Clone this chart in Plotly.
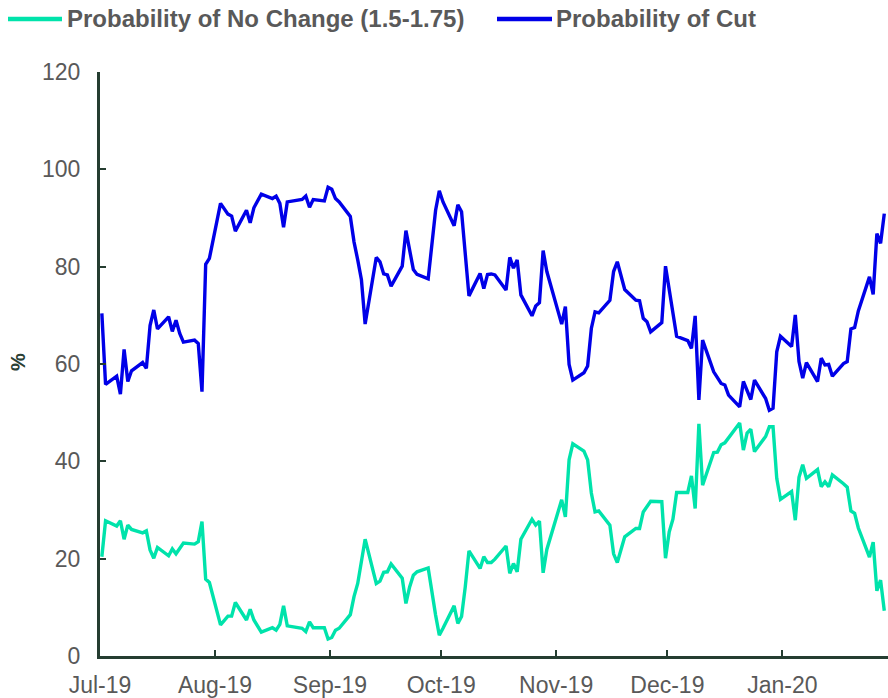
import plotly.graph_objects as go

# ---------------- data ----------------
cut_dates = [
    "2019-07-04", "2019-07-05", "2019-07-08", "2019-07-09", "2019-07-10", "2019-07-11", "2019-07-12",
    "2019-07-15", "2019-07-16", "2019-07-17", "2019-07-18", "2019-07-19",
    "2019-07-22", "2019-07-23", "2019-07-24", "2019-07-25", "2019-07-26",
    "2019-07-29", "2019-07-30", "2019-07-31", "2019-08-01", "2019-08-02",
    "2019-08-05", "2019-08-06", "2019-08-07", "2019-08-08", "2019-08-09",
    "2019-08-12", "2019-08-13", "2019-08-14", "2019-08-15", "2019-08-16",
    "2019-08-19", "2019-08-20", "2019-08-21", "2019-08-22", "2019-08-23",
    "2019-08-26", "2019-08-27", "2019-08-28", "2019-08-29", "2019-08-30",
    "2019-09-02", "2019-09-03", "2019-09-04", "2019-09-05", "2019-09-06",
    "2019-09-09", "2019-09-10", "2019-09-11", "2019-09-12", "2019-09-13",
    "2019-09-16", "2019-09-17", "2019-09-18", "2019-09-19", "2019-09-20",
    "2019-09-23", "2019-09-24", "2019-09-26", "2019-09-27",
    "2019-09-30", "2019-10-02", "2019-10-03", "2019-10-04",
    "2019-10-07", "2019-10-08", "2019-10-09", "2019-10-10", "2019-10-11",
    "2019-10-14", "2019-10-15", "2019-10-16", "2019-10-17", "2019-10-18",
    "2019-10-21", "2019-10-22", "2019-10-23", "2019-10-24", "2019-10-25",
    "2019-10-28", "2019-10-29", "2019-10-30", "2019-10-31", "2019-11-01",
    "2019-11-05", "2019-11-06", "2019-11-07", "2019-11-08",
    "2019-11-11", "2019-11-12", "2019-11-13", "2019-11-14", "2019-11-15",
    "2019-11-18", "2019-11-19", "2019-11-20", "2019-11-22",
    "2019-11-25", "2019-11-26", "2019-11-27", "2019-11-28", "2019-11-29",
    "2019-12-02", "2019-12-03", "2019-12-04", "2019-12-05", "2019-12-06",
    "2019-12-09", "2019-12-10", "2019-12-11", "2019-12-12", "2019-12-13",
    "2019-12-16", "2019-12-18", "2019-12-19", "2019-12-20",
    "2019-12-23", "2019-12-24", "2019-12-26", "2019-12-27",
    "2019-12-30", "2019-12-31", "2020-01-01", "2020-01-02", "2020-01-03",
    "2020-01-06", "2020-01-07", "2020-01-08", "2020-01-09", "2020-01-10",
    "2020-01-13", "2020-01-14", "2020-01-15", "2020-01-16", "2020-01-17",
    "2020-01-20", "2020-01-21", "2020-01-22", "2020-01-23", "2020-01-24",
    "2020-01-27", "2020-01-28", "2020-01-29", "2020-01-30", "2020-01-31",
]
cut_values = [
    70.4, 55.8, 57.5, 53.8, 63.0, 56.4, 58.6,
    60.3, 59.1, 67.9, 71.1, 67.2,
    69.7, 66.7, 69.0, 66.3, 64.5,
    64.9, 64.2, 54.3, 80.5, 81.7,
    93.0, 91.8, 90.8, 90.4, 87.3,
    91.6, 89.0, 92.1, 93.5, 94.9,
    94.0, 94.5, 93.0, 88.1, 93.3,
    93.6, 93.8, 94.5, 92.2, 93.8,
    93.5, 96.3, 95.9, 94.0, 93.3,
    90.3, 85.1, 81.4, 77.3, 68.2,
    81.9, 81.0, 78.5, 78.3, 76.0,
    80.1, 87.4, 79.4, 78.4,
    77.5, 91.6, 95.6, 93.3,
    88.4, 92.7, 91.3, 82.7, 74.0,
    78.6, 75.5, 78.4, 78.5, 78.3,
    75.2, 81.9, 79.7, 81.4, 74.2,
    69.9, 71.9, 72.6, 83.3, 79.0,
    68.2, 71.8, 59.9, 56.7,
    58.2, 59.6, 67.3, 70.7, 70.5,
    73.1, 79.0, 81.0, 75.3,
    73.1, 73.0, 69.4, 68.7, 66.6,
    68.5, 80.1, 75.2, 71.1, 65.7,
    64.8, 63.2, 69.9, 52.6, 64.9,
    58.4, 56.0, 55.7, 53.6,
    51.2, 56.4, 52.7, 56.7,
    52.9, 50.5, 50.9, 62.5, 65.7,
    63.6, 70.1, 60.5, 57.1, 60.3,
    56.4, 61.2, 59.8, 59.9, 57.5,
    60.1, 60.5, 67.2, 67.5, 70.9,
    77.9, 74.3, 86.8, 84.8, 90.9,
]

nochange_dates = [
    "2019-07-04", "2019-07-05", "2019-07-08", "2019-07-09", "2019-07-10", "2019-07-11", "2019-07-12",
    "2019-07-15", "2019-07-16", "2019-07-17", "2019-07-18", "2019-07-19",
    "2019-07-22", "2019-07-23", "2019-07-24", "2019-07-26",
    "2019-07-29", "2019-07-30", "2019-07-31", "2019-08-01", "2019-08-02",
    "2019-08-05", "2019-08-07", "2019-08-08", "2019-08-09",
    "2019-08-12", "2019-08-13", "2019-08-14", "2019-08-16",
    "2019-08-19", "2019-08-20", "2019-08-21", "2019-08-22", "2019-08-23",
    "2019-08-27", "2019-08-28", "2019-08-29", "2019-08-30",
    "2019-09-02", "2019-09-03", "2019-09-04", "2019-09-05", "2019-09-06",
    "2019-09-09", "2019-09-10", "2019-09-11", "2019-09-13",
    "2019-09-16", "2019-09-17", "2019-09-18", "2019-09-19", "2019-09-20",
    "2019-09-23", "2019-09-24", "2019-09-25", "2019-09-26", "2019-09-27",
    "2019-09-30", "2019-10-02", "2019-10-03", "2019-10-04",
    "2019-10-07", "2019-10-08", "2019-10-09", "2019-10-10", "2019-10-11",
    "2019-10-14", "2019-10-15", "2019-10-16", "2019-10-17", "2019-10-18",
    "2019-10-21", "2019-10-22", "2019-10-23", "2019-10-24", "2019-10-25",
    "2019-10-28", "2019-10-29", "2019-10-30", "2019-10-31", "2019-11-01",
    "2019-11-05", "2019-11-06", "2019-11-07", "2019-11-08",
    "2019-11-11", "2019-11-12", "2019-11-13", "2019-11-14", "2019-11-15",
    "2019-11-18", "2019-11-19", "2019-11-20", "2019-11-22",
    "2019-11-25", "2019-11-26", "2019-11-27", "2019-11-29",
    "2019-12-02", "2019-12-03", "2019-12-04", "2019-12-05", "2019-12-06",
    "2019-12-09", "2019-12-10", "2019-12-11", "2019-12-12", "2019-12-13",
    "2019-12-16", "2019-12-17", "2019-12-18", "2019-12-19",
    "2019-12-23", "2019-12-24", "2019-12-25", "2019-12-26", "2019-12-27",
    "2019-12-30", "2019-12-31", "2020-01-01", "2020-01-02", "2020-01-03",
    "2020-01-06", "2020-01-07", "2020-01-08", "2020-01-09", "2020-01-10",
    "2020-01-13", "2020-01-14", "2020-01-15", "2020-01-16", "2020-01-17",
    "2020-01-20", "2020-01-21", "2020-01-22", "2020-01-23", "2020-01-24",
    "2020-01-27", "2020-01-28", "2020-01-29", "2020-01-30", "2020-01-31",
]
nochange_values = [
    20.4, 27.8, 26.7, 27.8, 24.0, 26.9, 26.0,
    25.3, 25.7, 21.8, 20.1, 22.3,
    20.6, 22.0, 21.0, 23.2,
    23.0, 23.5, 27.6, 15.8, 15.1,
    6.4, 8.2, 8.2, 11.0,
    7.4, 9.6, 7.4, 4.9,
    5.8, 5.3, 6.5, 10.3, 6.2,
    5.7, 5.0, 7.0, 5.8,
    5.8, 3.5, 3.8, 5.3, 5.7,
    8.5, 12.2, 14.9, 24.0,
    14.9, 15.4, 17.2, 17.3, 18.9,
    16.0, 10.8, 14.2, 16.6, 17.3,
    18.1, 8.4, 4.3, 5.7,
    10.3, 6.7, 8.1, 14.2, 21.6,
    18.0, 20.4, 19.2, 19.2, 19.9,
    22.6, 17.0, 19.0, 17.3, 24.0,
    28.1, 26.9, 27.7, 17.1, 21.9,
    32.1, 28.6, 40.3, 43.6,
    42.1, 40.3, 33.5, 29.6, 29.8,
    26.9, 21.0, 19.2, 24.5,
    26.2, 26.2, 29.6, 31.8,
    31.7, 20.1, 25.5, 28.1, 33.6,
    33.6, 37.0, 30.3, 47.7, 35.1,
    41.8, 41.9, 43.4, 43.8,
    47.9, 42.3, 45.8, 46.6, 42.0,
    45.1, 47.1, 47.1, 36.5, 32.2,
    33.8, 27.9, 36.7, 39.3, 36.5,
    38.3, 34.8, 35.8, 34.8, 37.2,
    35.4, 34.7, 29.8, 29.3, 26.3,
    20.3, 23.4, 13.4, 15.6, 9.3,
]

tick_dates = ["2019-07-03 12:00", "2019-08-03 12:00", "2019-09-03 12:00", "2019-10-03 12:00",
              "2019-11-03 12:00", "2019-12-03 12:00", "2020-01-03 12:00"]
tick_labels = ["Jul-19", "Aug-19", "Sep-19", "Oct-19", "Nov-19", "Dec-19", "Jan-20"]
y_ticks = [0, 20, 40, 60, 80, 100, 120]

series_names = ["Probability of No Change (1.5-1.75)", "Probability of Cut"]

# ---------------- styling ----------------
GREEN = "#00E3AB"
BLUE = "#0000E8"
AXIS = "#253D31"
GREY = "#595959"
FONT = "Liberation Sans, Arial, sans-serif"

fig = go.Figure()
fig.add_trace(go.Scatter(x=nochange_dates, y=nochange_values, mode="lines",
                         name=series_names[0], line=dict(color=GREEN, width=3.4)))
fig.add_trace(go.Scatter(x=cut_dates, y=cut_values, mode="lines",
                         name=series_names[1], line=dict(color=BLUE, width=3.4)))

axis_common = dict(showline=True, linecolor=AXIS, linewidth=3, ticks="inside", ticklen=6,
                   tickwidth=2, tickcolor=AXIS, showgrid=False, zeroline=False,
                   automargin=False,
                   tickfont=dict(family=FONT, size=23, color=GREY))

fig.update_layout(
    width=888, height=698,
    margin=dict(l=100, r=0, t=72, b=42),
    plot_bgcolor="white", paper_bgcolor="white",
    showlegend=False,
    xaxis=dict(type="date", range=["2019-07-03 12:00", "2020-02-01 00:00"],
               tickmode="array", tickvals=tick_dates, ticktext=tick_labels,
               ticklabelstandoff=6, **axis_common),
    yaxis=dict(range=[0, 120], tickmode="array", tickvals=y_ticks,
               ticklabelstandoff=12, **axis_common),
)

# custom legend (long line samples like the reference)
def px_to_paper_x(px):
    return (px - 100) / 788.0

def px_to_paper_y(py):
    return (656 - py) / 584.0

legend_items = [(8, 62, 65, GREEN, series_names[0]), (497, 552, 554, BLUE, series_names[1])]
for x0, x1, xt, col, label in legend_items:
    fig.add_shape(type="line", xref="paper", yref="paper",
                  x0=px_to_paper_x(x0), x1=px_to_paper_x(x1),
                  y0=px_to_paper_y(19), y1=px_to_paper_y(19),
                  line=dict(color=col, width=4.5))
    fig.add_annotation(xref="paper", yref="paper", x=px_to_paper_x(xt), y=px_to_paper_y(19),
                       xanchor="left", yanchor="middle", showarrow=False, text="<b>%s</b>" % label,
                       font=dict(family=FONT, size=24, color=GREY))

fig.add_annotation(xref="paper", yref="paper", x=px_to_paper_x(18), y=px_to_paper_y(362),
                   xanchor="center", yanchor="middle", showarrow=False, text="<b>%</b>",
                   textangle=-90, font=dict(family=FONT, size=20, color="#2A4034"))

fig.write_html("out.html", config={"displayModeBar": False},
               post_script="document.body.style.margin='0px';")
